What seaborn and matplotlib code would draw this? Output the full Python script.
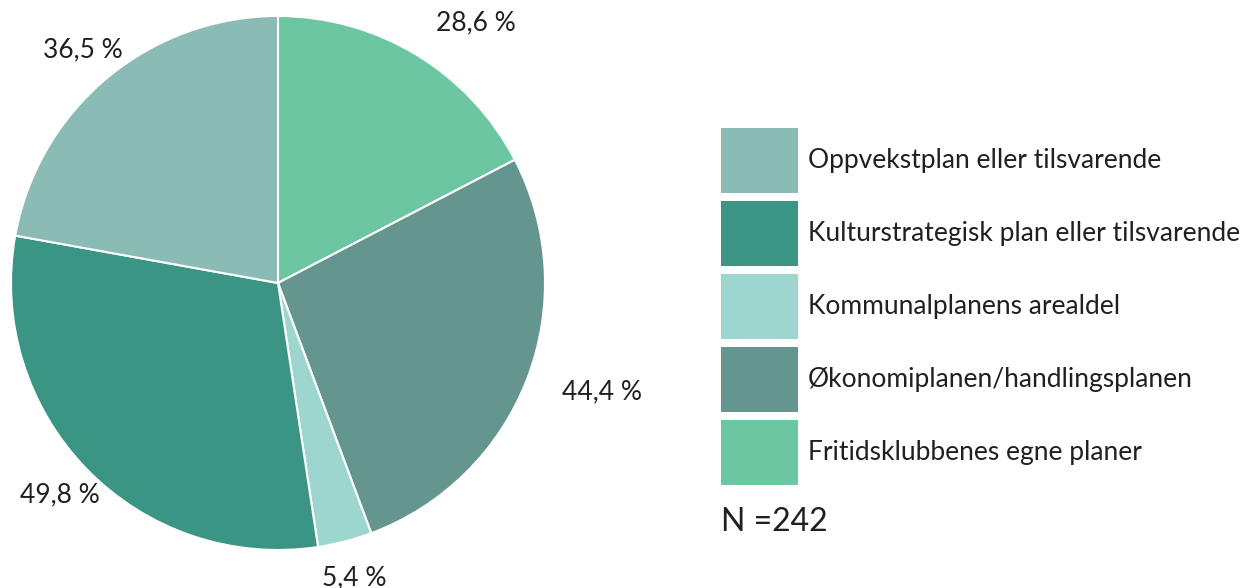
"""Pie chart: planer for fritidsklubbene."""
import matplotlib
matplotlib.use("Agg")
import matplotlib.pyplot as plt
import seaborn as sns
from matplotlib.patches import Patch

# data (clockwise from 12 o'clock)
categories = [
    "Fritidsklubbenes egne planer",
    "Økonomiplanen/handlingsplanen",
    "Kommunalplanens arealdel",
    "Kulturstrategisk plan eller tilsvarende",
    "Oppvekstplan eller tilsvarende",
]
values = [28.6, 44.4, 5.4, 49.8, 36.5]
colors = ["#6cc6a2", "#64958e", "#9dd6cf", "#3a9585", "#8abbb5"]
n_text = "N =242"

sns.set_theme(style="white")
plt.rcParams["font.family"] = ["Lato", "DejaVu Sans"]
text_color = "#231f20"

fig = plt.figure(figsize=(12.57, 5.88), dpi=100)
# axes box = pie circle
ax = fig.add_axes([11 / 1257, 1 - 550 / 588, 534 / 1257, 534 / 588])

labels = [f"{v:.1f}".replace(".", ",") + " %" for v in values]
wedges, texts = ax.pie(
    values, labels=labels, colors=colors, startangle=90, counterclock=False,
    labeldistance=1.14, wedgeprops=dict(edgecolor="white", linewidth=1.5),
    textprops=dict(fontsize=19, color=text_color),
)
# labels on the far right start at their anchor, the rest are centred
for t in texts:
    x, _ = t.get_position()
    t.set_horizontalalignment("left" if x > 0.5 else "center")
    t.set_clip_on(False)
ax.set_xlim(-1, 1)
ax.set_ylim(-1, 1)
ax.set_aspect("equal")

# legend order: reverse of the wedges
handles = [Patch(facecolor=c, edgecolor="none") for c in colors][::-1]
leg = fig.legend(
    handles, categories[::-1], loc="upper left", bbox_to_anchor=(0.5736, 0.782),
    frameon=False, fontsize=19, handlelength=2.9, handleheight=3.41,
    labelspacing=0.3, handletextpad=0.4, borderpad=0, borderaxespad=0,
    labelcolor=text_color,
)
fig.text(0.5736, 0.112, n_text, fontsize=23, color=text_color, va="center", ha="left")

fig.savefig("out.png", dpi=100)
